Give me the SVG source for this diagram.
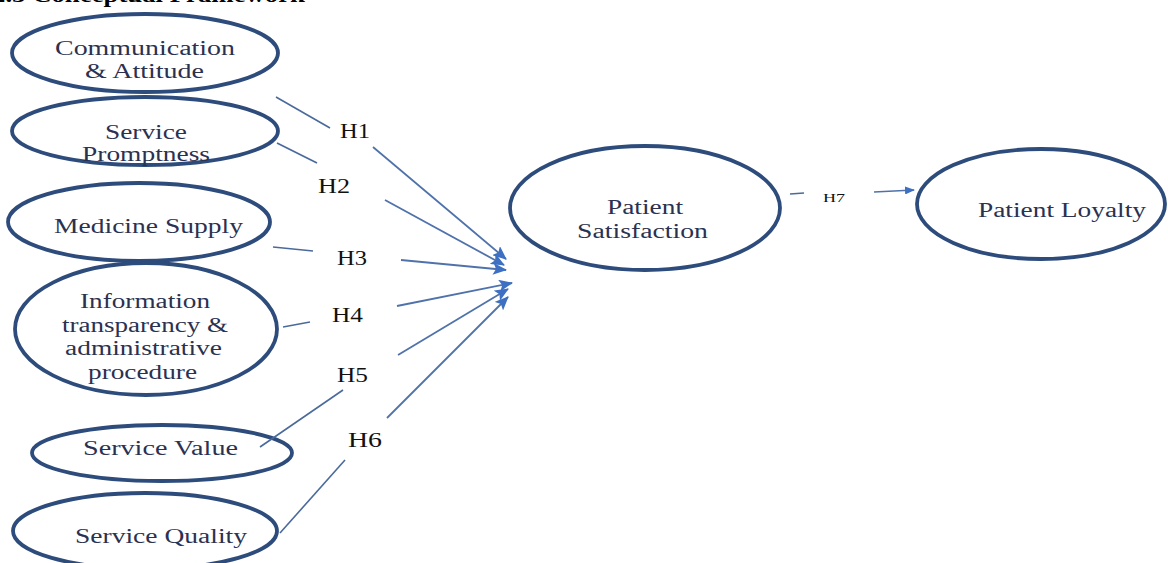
<svg xmlns="http://www.w3.org/2000/svg" width="1168" height="563" viewBox="0 0 1168 563">
<defs>
<marker id="ah" markerWidth="10" markerHeight="8" refX="9" refY="4" orient="auto" markerUnits="userSpaceOnUse">
<path d="M0,0 L10,4 L0,8 Z" fill="#3d6fc2"/>
</marker>
<marker id="ah2" markerWidth="14" markerHeight="12" refX="13" refY="6" orient="auto" markerUnits="userSpaceOnUse">
<path d="M0,0 L14,6 L0,12 L3,6 Z" fill="#3d6fc2"/>
</marker>
<style>
.node ellipse{fill:none;stroke:#2d4c7c;stroke-width:3.8}
.lbl{font-family:"Liberation Serif","Times New Roman",serif;font-size:20px;fill:#2b3150;text-anchor:start}
.h{font-family:"Liberation Serif","Times New Roman",serif;font-size:20px;fill:#111}
.seg{stroke:#4a6a9c;stroke-width:1.6;fill:none}
.arr{stroke:#4f72ab;stroke-width:1.8;fill:none;marker-end:url(#ah2)}
.title{font-family:"Liberation Serif","Times New Roman",serif;font-size:20px;font-weight:bold;fill:#000}
</style>
</defs>
<rect width="1168" height="563" fill="#fff"/>
<text class="title" x="-8" y="2" textLength="313" lengthAdjust="spacingAndGlyphs">2.5 Conceptual Framework</text>

<g id="n-communication" class="node">
<ellipse cx="145" cy="53" rx="133" ry="39"/>
<text class="lbl" x="55" y="55" textLength="180" lengthAdjust="spacingAndGlyphs">Communication</text>
<text class="lbl" x="85" y="78" textLength="119" lengthAdjust="spacingAndGlyphs">&amp; Attitude</text>
</g>
<g id="n-promptness" class="node">
<ellipse cx="145" cy="131" rx="133" ry="34"/>
<text class="lbl" x="105" y="139" textLength="82" lengthAdjust="spacingAndGlyphs">Service</text>
<text class="lbl" x="82" y="161" textLength="128" lengthAdjust="spacingAndGlyphs">Promptness</text>
</g>
<g id="n-medicine" class="node">
<ellipse cx="139" cy="222" rx="131" ry="39"/>
<text class="lbl" x="54" y="233" textLength="189" lengthAdjust="spacingAndGlyphs">Medicine Supply</text>
</g>
<g id="n-information" class="node">
<ellipse cx="146" cy="329" rx="131" ry="66"/>
<text class="lbl" x="80" y="308" textLength="130" lengthAdjust="spacingAndGlyphs">Information</text>
<text class="lbl" x="62" y="332" textLength="166" lengthAdjust="spacingAndGlyphs">transparency &amp;</text>
<text class="lbl" x="65" y="355" textLength="157" lengthAdjust="spacingAndGlyphs">administrative</text>
<text class="lbl" x="88" y="379" textLength="109" lengthAdjust="spacingAndGlyphs">procedure</text>
</g>
<g id="n-value" class="node">
<ellipse cx="162" cy="453" rx="130" ry="28"/>
<text class="lbl" x="83" y="455" textLength="155" lengthAdjust="spacingAndGlyphs">Service Value</text>
</g>
<g id="n-quality" class="node">
<ellipse cx="145" cy="531" rx="132" ry="38"/>
<text class="lbl" x="75" y="543" textLength="172" lengthAdjust="spacingAndGlyphs">Service Quality</text>
</g>
<g id="n-satisfaction" class="node">
<ellipse cx="645" cy="208" rx="135" ry="62"/>
<text class="lbl" x="607" y="214" textLength="76" lengthAdjust="spacingAndGlyphs">Patient</text>
<text class="lbl" x="577" y="238" textLength="131" lengthAdjust="spacingAndGlyphs">Satisfaction</text>
</g>
<g id="n-loyalty" class="node">
<ellipse cx="1041" cy="204" rx="124" ry="55"/>
<text class="lbl" x="978" y="217" textLength="168" lengthAdjust="spacingAndGlyphs">Patient Loyalty</text>
</g>

<g id="connectors">
<line class="seg" x1="276" y1="97" x2="330" y2="128"/>
<line class="arr" x1="373" y1="147" x2="506" y2="259"/>
<line class="seg" x1="277" y1="143" x2="317" y2="163"/>
<line class="arr" x1="385" y1="200" x2="504" y2="265"/>
<line class="seg" x1="273" y1="247" x2="313" y2="251"/>
<line class="arr" x1="401" y1="260" x2="506" y2="270"/>
<line class="seg" x1="283" y1="327" x2="310" y2="322"/>
<line class="arr" x1="397" y1="306" x2="512" y2="283"/>
<line class="seg" x1="260" y1="447" x2="343" y2="390"/>
<line class="arr" x1="398" y1="355" x2="508" y2="289"/>
<line class="seg" x1="280" y1="533" x2="345" y2="460"/>
<line class="arr" x1="387" y1="418" x2="508" y2="297"/>
<line class="seg" x1="790" y1="194" x2="804" y2="193"/>
<line stroke="#4f72ab" stroke-width="1.6" x1="874" y1="192" x2="914" y2="190" marker-end="url(#ah)"/>
<text class="h" x="340" y="138" textLength="30" lengthAdjust="spacingAndGlyphs">H1</text>
<text class="h" x="318" y="193" textLength="32" lengthAdjust="spacingAndGlyphs">H2</text>
<text class="h" x="337" y="265" textLength="30" lengthAdjust="spacingAndGlyphs">H3</text>
<text class="h" x="332" y="322" textLength="31" lengthAdjust="spacingAndGlyphs">H4</text>
<text class="h" x="337" y="382" textLength="31" lengthAdjust="spacingAndGlyphs">H5</text>
<text class="h" x="348" y="447" textLength="34" lengthAdjust="spacingAndGlyphs">H6</text>
<text class="h" x="823" y="202" style="font-size:13px" textLength="22" lengthAdjust="spacingAndGlyphs">H7</text>
</g>
</svg>
